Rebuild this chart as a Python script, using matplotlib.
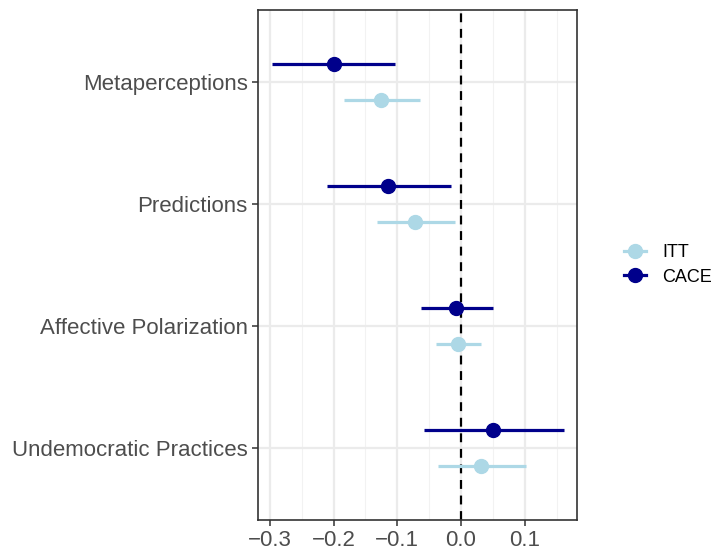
import matplotlib
matplotlib.use("Agg")
import matplotlib.pyplot as plt
import numpy as np
from matplotlib.lines import Line2D

outcomes = ["Undemocratic Practices", "Affective Polarization", "Predictions", "Metaperceptions"]

itt_est = [0.031, -0.005, -0.072, -0.126]
itt_lo = [-0.036, -0.039, -0.132, -0.184]
itt_hi = [0.102, 0.031, -0.009, -0.064]

cace_est = [0.050, -0.008, -0.115, -0.200]
cace_lo = [-0.058, -0.063, -0.210, -0.296]
cace_hi = [0.162, 0.050, -0.016, -0.103]

x_ticks = [-0.3, -0.2, -0.1, 0.0, 0.1]
x_tick_labels = ["\u22120.3", "\u22120.2", "\u22120.1", "0.0", "0.1"]

LIGHT = "#ADD8E6"
DARK = "#00008B"

plt.rcParams["font.family"] = ["Liberation Sans", "DejaVu Sans"]

fig = plt.figure(figsize=(7.16, 5.52), dpi=100)
ax = fig.add_axes([258 / 716, 32 / 552, (577 - 258) / 716, (520 - 10) / 552])

ypos = np.arange(1, len(outcomes) + 1)
dodge = 0.148

# minor grid
for v in [-0.25, -0.15, -0.05, 0.05, 0.15]:
    ax.axvline(v, color="#F2F2F2", lw=0.8, zorder=0)
for v in x_ticks:
    ax.axvline(v, color="#EBEBEB", lw=1.6, zorder=0)
for y in ypos:
    ax.axhline(y, color="#EBEBEB", lw=1.6, zorder=0)

ax.axvline(0, color="black", lw=1.6, ls=(0, (4, 3)), zorder=1)

ax.hlines(ypos - dodge, itt_lo, itt_hi, color=LIGHT, lw=2.3, zorder=2)
ax.plot(itt_est, ypos - dodge, "o", color=LIGHT, ms=10, zorder=3)
ax.hlines(ypos + dodge, cace_lo, cace_hi, color=DARK, lw=2.3, zorder=2)
ax.plot(cace_est, ypos + dodge, "o", color=DARK, ms=10, zorder=3)

ax.set_xlim(-0.3187, 0.182)
ax.set_ylim(0.41, 4.59)
ax.set_xticks(x_ticks)
ax.set_xticklabels(x_tick_labels)
ax.set_yticks(ypos)
ax.set_yticklabels(outcomes)
ax.tick_params(axis="both", labelsize=16, colors="#4D4D4D", length=4.5, width=1.1, pad=3)
ax.tick_params(axis="both", color="#333333")
for s in ax.spines.values():
    s.set_color("#333333")
    s.set_linewidth(1.2)

handles = [
    Line2D([0], [0], color=LIGHT, lw=2.3, marker="o", ms=10),
    Line2D([0], [0], color=DARK, lw=2.3, marker="o", ms=10),
]
fig.legend(handles, ["ITT", "CACE"], loc="center left", bbox_to_anchor=(608 / 716, 1 - 265 / 552),
           frameon=False, fontsize=13, handlelength=1.2, handletextpad=0.9, labelspacing=0.4)

fig.savefig("out.png", dpi=100)
